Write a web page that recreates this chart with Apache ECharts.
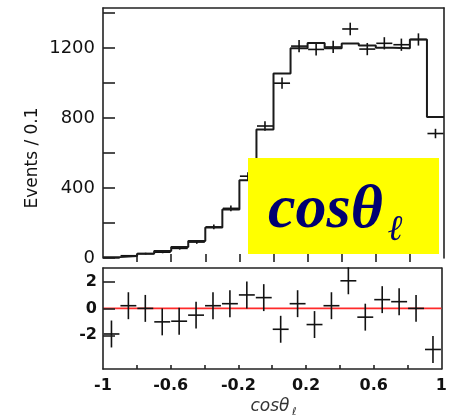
<!DOCTYPE html>
<html>
<head>
<meta charset="utf-8">
<script src="https://cdn.jsdelivr.net/npm/echarts@6/dist/echarts.min.js"></script>
<style>
  html, body { margin: 0; padding: 0; background: #fff; }
  #chart { width: 450px; height: 417px; }
</style>
</head>
<body>
<div id="chart"></div>
<script>
// Bin centres of cosθℓ (20 bins of width 0.1)
const binCenters = [-0.95, -0.85, -0.75, -0.65, -0.55, -0.45, -0.35, -0.25, -0.15, -0.05,
                     0.05,  0.15,  0.25,  0.35,  0.45,  0.55,  0.65,  0.75,  0.85,  0.95];
const binWidth = 0.1;

// Fitted expectation per bin (histogram)
const fitCounts = [5, 12, 25, 40, 63, 97, 175, 278, 445, 735,
                   1055, 1200, 1230, 1200, 1227, 1215, 1203, 1200, 1250, 806];
// Observed events per bin and their errors
const dataCounts = [1, 13, 25, 33, 55, 91, 178, 284, 468, 755,
                    1000, 1212, 1193, 1207, 1310, 1195, 1228, 1220, 1250, 712];
const dataErrors = [1, 4, 5, 6, 7, 10, 13, 17, 22, 27,
                    32, 35, 35, 35, 36, 35, 35, 35, 35, 27];
// Pulls (data - fit) / sigma and their unit errors
const pulls = [-1.9, 0.2, 0.0, -1.0, -0.95, -0.5, 0.2, 0.35, 1.0, 0.8,
               -1.55, 0.35, -1.2, 0.2, 2.05, -0.65, 0.65, 0.5, 0.0, -3.05];
const pullErrors = [1, 1, 1, 1, 1, 1, 1, 1, 1, 1,
                    1, 1, 1, 1, 1, 1, 1, 1, 1, 1];

// Axis ticks and labels
const xTickValues = [-0.8, -0.6, -0.4, -0.2, 0, 0.2, 0.4, 0.6, 0.8];
const xLabelValues = [-1, -0.6, -0.2, 0.2, 0.6, 1];
const xLabels = ['-1', '-0.6', '-0.2', '0.2', '0.6', '1'];
const eventTickValues = [0, 200, 400, 600, 800, 1000, 1200, 1400];
const eventLabelValues = [0, 400, 800, 1200];
const eventLabels = ['0', '400', '800', '1200'];
const pullTickValues = [-2, 0, 2];
const pullLabels = ['-2', '0', '2'];

// Step outline: one point per lower bin edge, plus the upper edge of the last bin
const histPoints = binCenters.map((c, i) => [c - binWidth / 2, fitCounts[i]]);
histPoints.push([binCenters[binCenters.length - 1] + binWidth / 2, fitCounts[fitCounts.length - 1]]);

const dataPoints = binCenters.map((c, i) => [c, dataCounts[i], dataErrors[i]]);
const pullPoints = binCenters.map((c, i) => [c, pulls[i], pullErrors[i]]);

const halfBar = binWidth * 0.47;
function crossItem(params, api) {
  const x = api.value(0), y = api.value(1), e = api.value(2);
  const l = api.coord([x - halfBar, y]);
  const r = api.coord([x + halfBar, y]);
  const t = api.coord([x, y + e]);
  const b = api.coord([x, y - e]);
  const st = { stroke: '#111', lineWidth: 1.6 };
  return {
    type: 'group',
    children: [
      { type: 'line', shape: { x1: l[0], y1: l[1], x2: r[0], y2: r[1] }, style: st },
      { type: 'line', shape: { x1: t[0], y1: t[1], x2: b[0], y2: b[1] }, style: st }
    ]
  };
}

function pick(values, labels) {
  return v => {
    const i = values.findIndex(t => Math.abs(t - v) < 1e-6);
    return i < 0 ? '' : labels[i];
  };
}

const frameLine = { show: true, onZero: false, lineStyle: { color: '#222', width: 1.6 } };
const tickStyle = { color: '#222', width: 1.6 };
const boldLabel = { fontFamily: '"DejaVu Sans"', fontWeight: 'bold', fontSize: 16, color: '#111' };
const hidden = { axisTick: { show: false }, axisLabel: { show: false }, splitLine: { show: false } };

const chart = echarts.init(document.getElementById('chart'), null, { renderer: 'canvas' });
chart.setOption({
  animation: false,
  backgroundColor: '#fff',
  grid: [
    { left: 103, right: 6, top: 8, height: 250 },
    { left: 103, right: 6, top: 268, height: 101 }
  ],
  xAxis: [
    { gridIndex: 0, type: 'value', min: -1, max: 1, position: 'bottom', offset: 4,
      axisLine: { show: false, onZero: false },
      axisTick: { inside: true, length: 8, customValues: xTickValues, lineStyle: tickStyle },
      axisLabel: { show: false }, splitLine: { show: false } },
    Object.assign({ gridIndex: 0, type: 'value', min: -1, max: 1, position: 'top', axisLine: frameLine }, hidden),
    { gridIndex: 1, type: 'value', min: -1, max: 1, position: 'bottom',
      axisLine: frameLine,
      axisTick: { inside: true, length: 4, customValues: xTickValues, lineStyle: tickStyle },
      axisLabel: Object.assign({ margin: 9, customValues: xLabelValues, formatter: pick(xLabelValues, xLabels) }, boldLabel),
      splitLine: { show: false } },
    Object.assign({ gridIndex: 1, type: 'value', min: -1, max: 1, position: 'top', axisLine: frameLine }, hidden)
  ],
  yAxis: [
    { gridIndex: 0, type: 'value', min: 0, max: 1430, position: 'left', z: 3,
      axisLine: frameLine,
      axisTick: { inside: true, length: 12, customValues: eventTickValues, lineStyle: tickStyle },
      axisLabel: { margin: 8, customValues: eventLabelValues, formatter: pick(eventLabelValues, eventLabels),
        fontFamily: '"DejaVu Sans"', fontSize: 18, color: '#111' },
      splitLine: { show: false } },
    Object.assign({ gridIndex: 0, type: 'value', min: 0, max: 1430, position: 'right', axisLine: frameLine }, hidden),
    { gridIndex: 1, type: 'value', min: -4.5, max: 3, position: 'left', z: 3,
      axisLine: frameLine,
      axisTick: { inside: true, length: 12, customValues: pullTickValues, lineStyle: tickStyle },
      axisLabel: Object.assign({ margin: 6, customValues: pullTickValues, formatter: pick(pullTickValues, pullLabels) }, boldLabel),
      splitLine: { show: false } },
    Object.assign({ gridIndex: 1, type: 'value', min: -4.5, max: 3, position: 'right', axisLine: frameLine }, hidden)
  ],
  series: [
    { name: 'fit', type: 'line', xAxisIndex: 0, yAxisIndex: 0, step: 'end',
      data: histPoints, showSymbol: false, lineStyle: { color: '#1a1a1a', width: 2 } },
    { name: 'data', type: 'custom', xAxisIndex: 0, yAxisIndex: 0,
      data: dataPoints, renderItem: crossItem },
    { name: 'zero', type: 'line', xAxisIndex: 2, yAxisIndex: 2,
      data: [[-1, 0], [1, 0]], showSymbol: false, lineStyle: { color: '#ff2a2a', width: 1.6 }, z: 1 },
    { name: 'pull', type: 'custom', xAxisIndex: 2, yAxisIndex: 2,
      data: pullPoints, renderItem: crossItem }
  ],
  graphic: [
    { type: 'text', x: 33, y: 158, rotation: Math.PI / 2,
      style: { text: 'Events / 0.1', font: '17px "DejaVu Sans"', fill: '#111', align: 'center', verticalAlign: 'middle' } },
    { type: 'text', x: 270, y: 407,
      style: { text: 'cosθ', font: 'italic 17px "DejaVu Sans"', fill: '#333', align: 'center', verticalAlign: 'middle' } },
    { type: 'text', x: 292, y: 412,
      style: { text: 'ℓ', font: 'italic 11px "DejaVu Sans"', fill: '#333', align: 'left', verticalAlign: 'middle' } },
    { type: 'rect', z: 100, shape: { x: 248, y: 158, width: 191, height: 96 }, style: { fill: '#ffff00' } },
    { type: 'text', z: 101, x: 268, y: 211,
      style: { text: 'cosθ', font: 'italic bold 62px "Liberation Serif"', fill: '#000070', align: 'left', verticalAlign: 'middle' } },
    { type: 'text', z: 101, x: 388, y: 231,
      style: { text: 'ℓ', font: 'italic bold 36px "Liberation Serif"', fill: '#000070', align: 'left', verticalAlign: 'middle' } }
  ]
});
</script>
</body>
</html>
